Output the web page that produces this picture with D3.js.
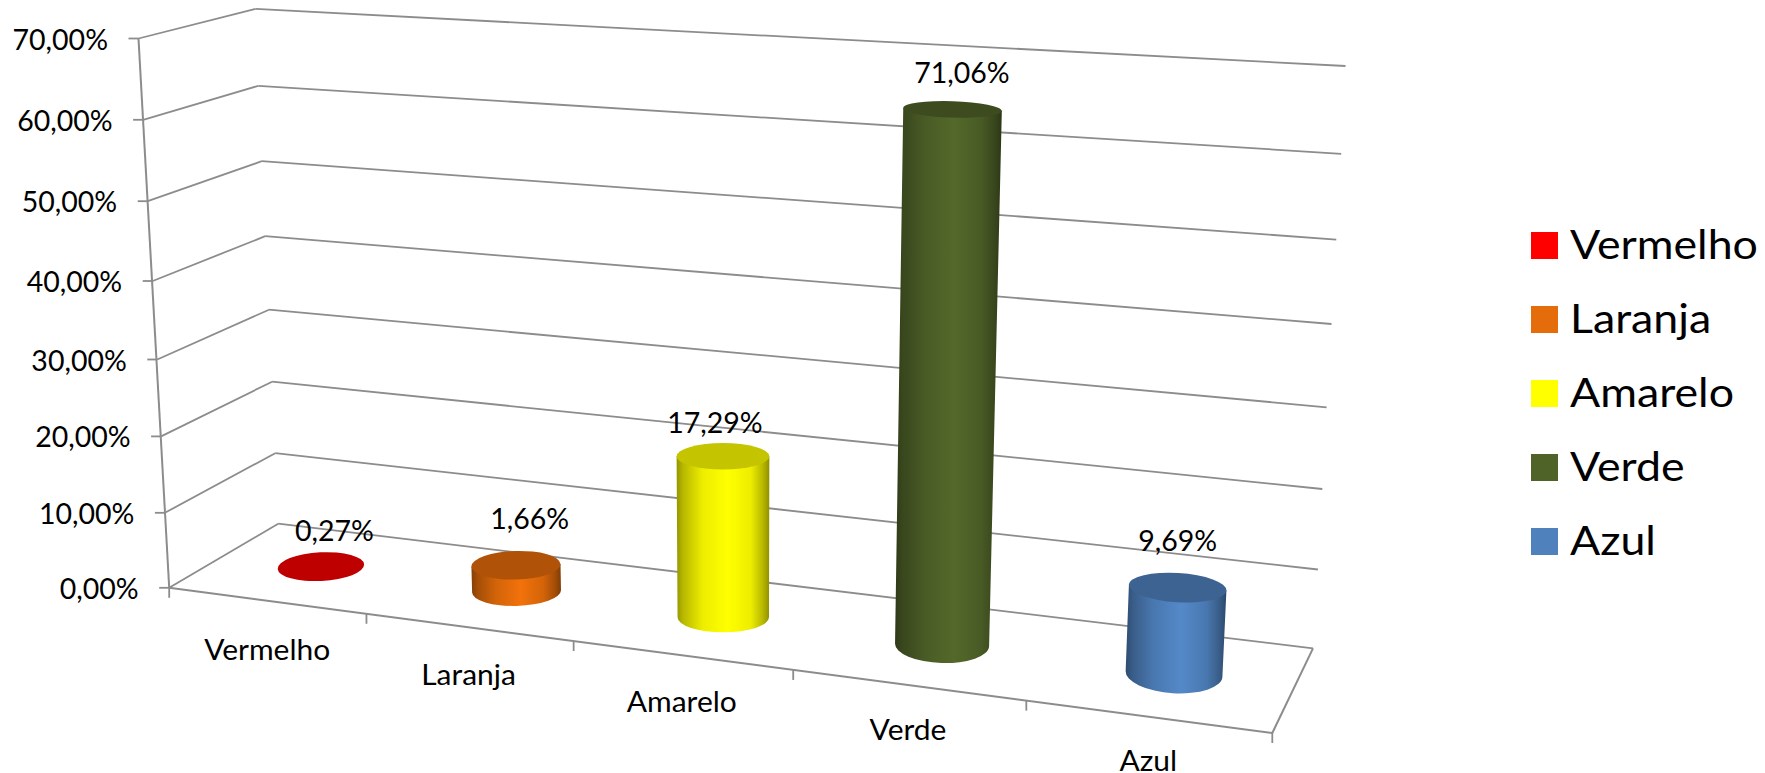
<!DOCTYPE html>
<html lang="pt">
<head>
<meta charset="utf-8">
<script src="https://cdnjs.cloudflare.com/ajax/libs/d3/7.8.5/d3.min.js"></script>
<style>
html,body{margin:0;padding:0;background:#fff;overflow:hidden}
svg{display:block}
text{font-family:Lato,"Open Sans",sans-serif;fill:#000}
</style>
</head>
<body>
<svg id="chart" width="1765" height="773"></svg>
<script>
// ---- data ----
const categories = ["Vermelho", "Laranja", "Amarelo", "Verde", "Azul"];
const values = [0.27, 1.66, 17.29, 71.06, 9.69];
const seriesColors = ["#FF0000", "#E46C0A", "#FFFF00", "#4F6228", "#4F81BD"];
const tickValues = [0, 10, 20, 30, 40, 50, 60, 70];

// ---- layout ----
const W = 1765, H = 773;
const svg = d3.select("#chart");
const defs = svg.append("defs");
const ptBR = d3.formatLocale({decimal: ",", thousands: ".", grouping: [3], currency: ["R$", ""]});
const pct = v => ptBR.format(".2f")(v) + "%";

// wall edges in screen space (perspective makes them slightly non-linear)
const edge = (xs, ys) => {
  const x = d3.scaleLinear().domain(tickValues).range(xs);
  const y = d3.scaleLinear().domain(tickValues).range(ys);
  return v => [x(v), y(v)];
};
const frontLeft = edge([169.2, 164.9, 161.1, 157.3, 152.7, 147.7, 143.1, 138.5],
                       [587.8, 512.8, 436.4, 359.5, 281.0, 201.2, 119.8, 38.5]);
const backLeft = edge([278.2, 275.2, 272.1, 269.0, 265.2, 261.8, 258.3, 255.6],
                      [523.7, 453.2, 381.7, 309.7, 236.2, 161.2, 85.8, 8.9]);
const backRight = edge([1313, 1317.9, 1322.3, 1326.6, 1331.5, 1336.3, 1341.2, 1345.5],
                       [648.4, 569.5, 489.0, 407.3, 324.0, 239.6, 153.8, 66.0]);

// floor plane: projective map from unit square (u along categories, v depth)
const c00 = frontLeft(0), c01 = backLeft(0), c11 = backRight(0), c10 = [1272.3, 733];
const floor = (() => {
  const [x0, y0] = c00, [x1, y1] = c10, [x2, y2] = c11, [x3, y3] = c01;
  const dx1 = x1 - x2, dx2 = x3 - x2, sx = x0 - x1 + x2 - x3;
  const dy1 = y1 - y2, dy2 = y3 - y2, sy = y0 - y1 + y2 - y3;
  const det = dx1 * dy2 - dx2 * dy1;
  const g = (sx * dy2 - dx2 * sy) / det, h = (dx1 * sy - sx * dy1) / det;
  const a = x1 - x0 + g * x1, b = x3 - x0 + h * x3;
  const d = y1 - y0 + g * y1, e = y3 - y0 + h * y3;
  return (u, v) => {
    const w = 1 + g * u + h * v;
    return {x: (a * u + b * v + x0) / w, y: (d * u + e * v + y0) / w, w};
  };
})();

const band = d3.scaleBand().domain(categories).range([0, 1]);
const shiftU = 0.0015;
const uCenter = c => band(c) + band.bandwidth() / 2 + shiftU;

// value -> on-screen cylinder height, as the 3-D renderer drew it
const barHeight = d3.scaleLinear()
  .domain([0.27, 1.66, 9.69, 17.29, 71.06])
  .range([0, 26, 86.4, 161, 535.4]);
const lean = d3.scaleLinear().domain([169, 1313]).range([-0.056, 0.0558]);
const radiusY = d3.scaleLinear().domain([109, 456, 565, 617, 644, 673]).range([8.2, 13.2, 14.3, 15, 18.2, 19.2]);
const tilt = d3.scaleLinear().domain([320, 724, 1176]).range([-3, 0, 3.5]);

const bars = categories.map((c, i) => {
  const base = floor(uCenter(c), 0.5);
  const h = barHeight(values[i]);
  const rx = 44.2 / base.w;
  const topX = base.x + lean(base.x) * h, topY = base.y - h;
  return {
    name: c, value: values[i], color: seriesColors[i], i,
    bx: base.x, by: base.y, brx: rx, bry: radiusY(base.y), bt: tilt(base.x),
    tx: topX, ty: topY, trx: rx * (1 + h * 9e-5), try_: radiusY(topY), tt: tilt(topX)
  };
});

// ---- gridlines, floor, axis ----
const lineColor = "#8c8c8c";
const lineW = 1.8;
const seg = (g, p, q, w = lineW) => g.append("line")
  .attr("x1", p[0]).attr("y1", p[1]).attr("x2", q[0]).attr("y2", q[1])
  .attr("stroke", lineColor).attr("stroke-width", w);

const grid = svg.append("g").attr("class", "grid");
tickValues.forEach(v => {
  seg(grid, frontLeft(v), backLeft(v));
  seg(grid, backLeft(v), backRight(v));
  const p = frontLeft(v);
  seg(grid, [p[0] - 10, p[1]], p);
});
seg(grid, frontLeft(0), frontLeft(70), 2);
seg(grid, c00, c10, 2);
seg(grid, c10, c11, 2);
const tickUs = categories.map((c, i) => i === 0 ? 0 : band(c) + shiftU).concat([1]);
tickUs.forEach(u => {
  const p = floor(u, 0);
  seg(grid, [p.x, p.y], [p.x, p.y + 10]);
});

// ---- cylinders ----
const shadeStops = [[0, .58], [.07, .72], [.28, .93], [.55, 1.06], [.8, .93], [.93, .72], [1, .56]];
const scaleColor = (col, k) => {
  const c = d3.rgb(col);
  return d3.rgb(Math.min(255, c.r * k), Math.min(255, c.g * k), Math.min(255, c.b * k)).formatHex();
};
const ends = (cx, cy, rx, deg) => {
  const t = deg * Math.PI / 180;
  return [[cx - rx * Math.cos(t), cy - rx * Math.sin(t)], [cx + rx * Math.cos(t), cy + rx * Math.sin(t)]];
};

bars.forEach(b => {
  const g = svg.append("g").attr("class", "cyl");
  if (b.value >= 1) {
    const id = "grad" + b.i;
    const grad = defs.append("linearGradient").attr("id", id).attr("x1", 0).attr("x2", 1).attr("y1", 0).attr("y2", 0);
    shadeStops.forEach(([o, k]) => grad.append("stop").attr("offset", o).attr("stop-color", scaleColor(b.color, k)));
    const [bl, br] = ends(b.bx, b.by, b.brx, b.bt);
    const [tl, tr] = ends(b.tx, b.ty, b.trx, b.tt);
    g.append("path")
      .attr("d", `M${tl}L${bl}A${b.brx} ${b.bry} ${b.bt} 0 0 ${br}L${tr}Z`)
      .attr("fill", `url(#${id})`);
  }
  g.append("ellipse")
    .attr("rx", b.trx).attr("ry", b.try_)
    .attr("transform", `translate(${b.tx},${b.ty}) rotate(${b.tt})`)
    .attr("fill", scaleColor(b.color, b.value < 1 ? .75 : .77));
});

// ---- text ----
const fontAxis = 28, fontLegend = 41;
// Lato stands in for the original face: stretch to the original's word widths
const widen = (sel, k) => sel.each(function () {
  const len = this.getComputedTextLength();
  d3.select(this).attr("textLength", len * k).attr("lengthAdjust", "spacingAndGlyphs");
});
const numberWiden = 1.018, wordWiden = 1.07, legendWiden = 1.09;

const valueLabels = svg.append("g");
const labelNudge = [[13.6, -26], [13.7, -36.5], [-8, -23], [9.4, -26.5], [0, -36.5]];
bars.forEach((b, i) => {
  valueLabels.append("text")
    .attr("x", b.tx + labelNudge[i][0]).attr("y", b.ty + labelNudge[i][1])
    .attr("text-anchor", "middle").attr("font-size", fontAxis)
    .text(pct(b.value)).call(widen, numberWiden);
});

const axisLabels = svg.append("g");
tickValues.forEach(v => {
  const p = frontLeft(v);
  axisLabels.append("text")
    .attr("x", p[0] - 30.5).attr("y", p[1] + 11)
    .attr("text-anchor", "end").attr("font-size", fontAxis)
    .text(pct(v)).call(widen, numberWiden);
});

const catOffset = d3.scaleLinear().domain([0, 1]).range([60, 53.5]);
categories.forEach(c => {
  const u = uCenter(c), p = floor(u, 0);
  axisLabels.append("text")
    .attr("x", p.x).attr("y", p.y + catOffset(u))
    .attr("text-anchor", "middle").attr("font-size", fontAxis)
    .text(c).call(widen, wordWiden);
});

// ---- legend ----
const legendY = d3.scalePoint().domain(categories).range([259, 555]);
const legend = svg.append("g").attr("class", "legend");
categories.forEach((c, i) => {
  legend.append("rect")
    .attr("x", 1531).attr("y", legendY(c) - 27).attr("width", 27).attr("height", 27)
    .attr("fill", seriesColors[i]);
  legend.append("text")
    .attr("x", 1570).attr("y", legendY(c))
    .attr("font-size", fontLegend).text(c).call(widen, legendWiden);
});
</script>
</body>
</html>
